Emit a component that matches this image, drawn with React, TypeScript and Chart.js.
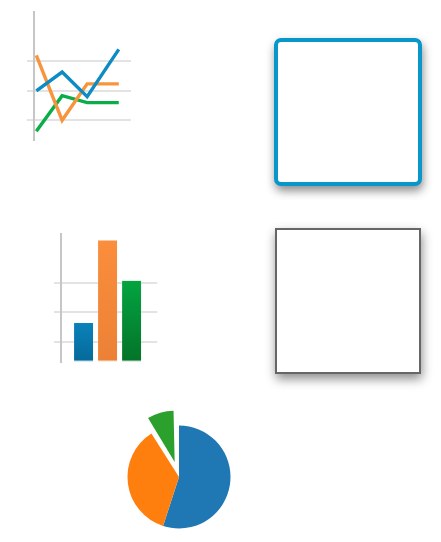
import { useEffect, useRef } from 'react';
import { Chart, registerables } from 'chart.js';

Chart.register(...registerables);

// ---- data ----
const gridTicks = [2, 5, 8];
const lineX = [0.24, 2.9, 5.48, 8.74];
const orangeLine = [8.6, 2.0, 5.7, 5.7];
const blueLine = [5.0, 6.9, 4.4, 9.2];
const greenLine = [0.9, 4.5, 3.8, 3.8];

const barX = [0, 1, 2];
const barValues = [3.9, 12.3, 8.2];

const pieLabels = ['A', 'B', 'C'];
const pieValues = [55, 36, 9];
const pieOffsets = [0, 0, 62];

// ---- styles ----
const lineColors = { orange: '#f7953f', blue: '#0d8bc4', green: '#0aad47' };
const barTop = ['#0b82ba', '#fa8e3c', '#03a440'];
const barBottom = ['#05699a', '#ec8136', '#047329'];
const barStrip = ['#7fb3cf', '#f4c39d', '#7fb894'];
const pieColors = ['#1f77b4', '#ff7f0e', '#2ca02c'];
const PIE_RADIUS = 51.5;

function yScale() {
  return {
    type: 'linear' as const,
    min: 0,
    max: 13,
    afterBuildTicks: (s: any) => {
      s.ticks = gridTicks.map((v) => ({ value: v }));
    },
    ticks: { display: false },
    grid: { color: '#e3e3e3', lineWidth: 2, tickLength: 7, drawTicks: true },
    border: { display: true, color: '#c6c6c6', width: 2 },
  };
}

const pieRadiusFix = {
  id: 'pieRadiusFix',
  beforeDatasetsDraw(chart: any) {
    const meta = chart.getDatasetMeta(0);
    meta.data.forEach((arc: any, i: number) => {
      const off = (pieOffsets[i] || 0) / 4;
      const fix = 1 - Math.sin(Math.min(Math.PI, arc.circumference || 0));
      arc.outerRadius = PIE_RADIUS - off * fix;
    });
  },
};

export default function App() {
  const lineRef = useRef<HTMLCanvasElement>(null);
  const barRef = useRef<HTMLCanvasElement>(null);
  const pieRef = useRef<HTMLCanvasElement>(null);

  useEffect(() => {
    const mk = (data: number[], color: string) => ({
      data: lineX.map((x, i) => ({ x, y: data[i] })),
      borderColor: color,
      borderWidth: 3.4,
      pointRadius: 0,
      tension: 0,
      fill: false,
    });
    const line = new Chart(lineRef.current!, {
      type: 'line',
      data: {
        datasets: [mk(blueLine, lineColors.blue), mk(orangeLine, lineColors.orange), mk(greenLine, lineColors.green)],
      },
      options: {
        responsive: false,
        animation: false,
        layout: { padding: { left: 27, top: 12, right: 29, bottom: 20 } },
        plugins: { legend: { display: false }, tooltip: { enabled: false } },
        scales: {
          x: { type: 'linear', min: 0, max: 10, display: false },
          y: yScale() as any,
        },
      },
    });

    const bar = new Chart(barRef.current!, {
      type: 'bar',
      data: {
        datasets: [
          {
            data: barX.map((x, i) => ({ x, y: barValues[i] })),
            barThickness: 19,
            backgroundColor: (c: any) => {
              const chart = c.chart;
              const i = c.dataIndex ?? 0;
              const ys = chart.scales && chart.scales.y;
              if (!ys) return barTop[i];
              const top = ys.getPixelForValue(barValues[i]);
              const bottom = ys.getPixelForValue(0);
              if (!isFinite(top) || !isFinite(bottom) || top === bottom) return barTop[i];
              const g = chart.ctx.createLinearGradient(0, top, 0, bottom);
              g.addColorStop(0, barTop[i]);
              g.addColorStop(1, barBottom[i]);
              return g;
            },
            borderColor: barStrip,
            borderWidth: { top: 0, left: 0, right: 0, bottom: 1.5 },
            borderSkipped: false,
          } as any,
        ],
      },
      options: {
        responsive: false,
        animation: false,
        layout: { padding: { left: 54, top: 13.5, right: 2.7, bottom: 18.5 } },
        plugins: { legend: { display: false }, tooltip: { enabled: false } },
        scales: {
          x: { type: 'linear', min: -0.94, max: 3.07, display: false, offset: false },
          y: yScale() as any,
        },
      },
    });

    const pie = new Chart(pieRef.current!, {
      type: 'pie',
      data: {
        labels: pieLabels,
        datasets: [
          {
            data: pieValues,
            backgroundColor: pieColors,
            borderWidth: 0,
            offset: pieOffsets,
          } as any,
        ],
      },
      options: {
        responsive: false,
        animation: false,
        radius: PIE_RADIUS,
        layout: { padding: 0 },
        plugins: { legend: { display: false }, tooltip: { enabled: false } },
      } as any,
      plugins: [pieRadiusFix],
    });

    return () => {
      line.destroy();
      bar.destroy();
      pie.destroy();
    };
  }, []);

  const abs = (l: number, t: number): React.CSSProperties => ({ position: 'absolute', left: l, top: t, display: 'block' });

  return (
    <div style={{ position: 'absolute', left: 0, top: 0, width: 441, height: 542, overflow: 'hidden', background: '#fff' }}>
      <canvas ref={lineRef} width={160} height={160} style={abs(0, 0)} />
      <div
        style={{
          ...abs(274, 38),
          width: 148,
          height: 148,
          boxSizing: 'border-box',
          border: '4.5px solid #0897ca',
          borderRadius: 7,
          background: '#fff',
          boxShadow: '1px 5px 10px rgba(0,0,0,0.45)',
        }}
      />
      <canvas ref={barRef} width={160} height={160} style={abs(0, 220)} />
      <div
        style={{
          ...abs(275, 228),
          width: 146,
          height: 146,
          boxSizing: 'border-box',
          border: '2px solid #666',
          background: '#fff',
          boxShadow: '1px 5px 10px rgba(0,0,0,0.45)',
        }}
      />
      <canvas ref={pieRef} width={160} height={160} style={abs(99, 397)} />
    </div>
  );
}
